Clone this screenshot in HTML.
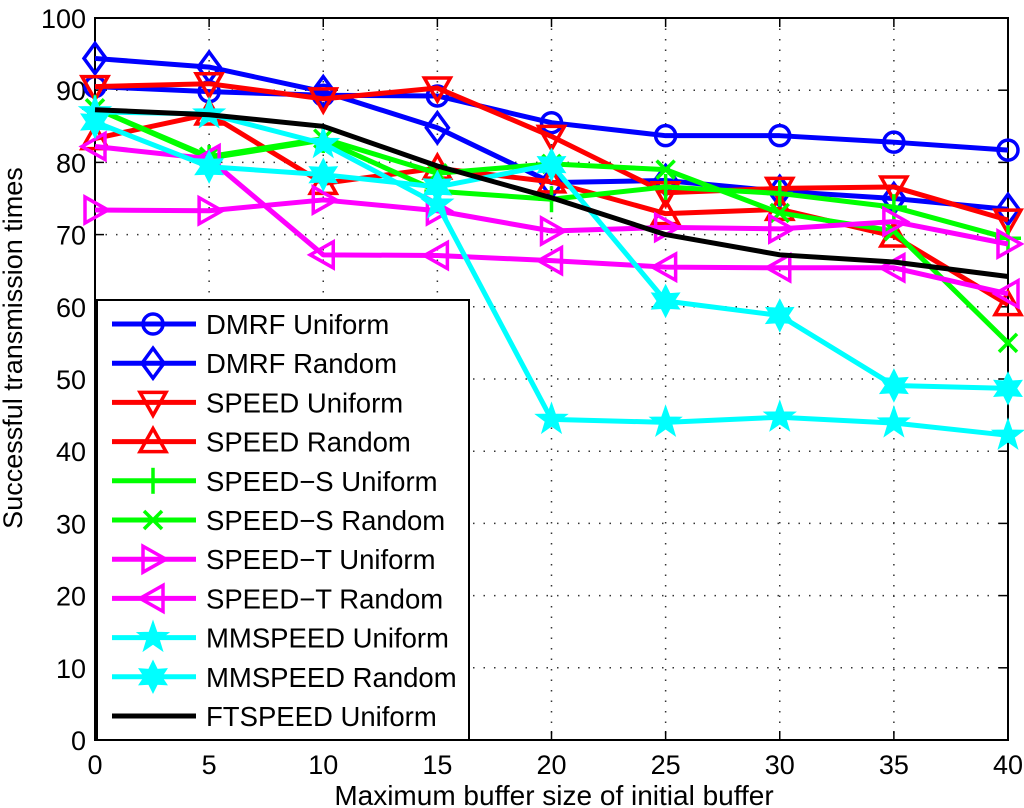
<!DOCTYPE html>
<html><head><meta charset="utf-8"><style>
html,body{margin:0;padding:0;background:#fff;}
svg{display:block;font-family:"Liberation Sans",Arial,sans-serif;}
</style></head><body>
<svg id="chart" width="1024" height="808" viewBox="0 0 1024 808" xmlns="http://www.w3.org/2000/svg"></svg>
<script>
const xCats = [0,5,10,15,20,25,30,35,40];
const yTicks = [0,10,20,30,40,50,60,70,80,90,100];
const dmrfUniform   = [90.5,89.8,89.3,89.2,85.5,83.7,83.7,82.8,81.7];
const dmrfRandom    = [94.4,93.2,89.8,84.8,77.2,77.5,76.0,75.0,73.5];
const speedUniform  = [90.5,90.9,88.8,90.3,83.6,75.8,76.4,76.6,72.0];
const speedRandom   = [83.3,86.7,77.1,79.2,77.3,72.9,73.5,69.8,60.3];
const speedSUniform = [87.5,80.6,83.1,76.0,74.9,76.6,75.7,73.8,69.5];
const speedSRandom  = [87.5,80.8,83.3,78.5,79.8,79.0,73.0,70.5,55.0];
const speedTUniform = [73.4,73.3,74.8,73.3,70.5,71.0,70.8,71.8,68.7];
const speedTRandom  = [82.2,80.5,67.2,67.1,66.4,65.5,65.4,65.4,61.8];
const mmUniform     = [87.0,86.7,82.6,74.2,44.4,44.0,44.7,43.9,42.2];
const mmRandom      = [85.6,79.4,78.3,76.6,79.7,60.8,58.8,49.1,48.7];
const ftUniform     = [87.3,86.6,85.0,79.5,75.1,70.0,67.2,66.2,64.2];

const L=95,R=1008,T=18,B=740;
const xs=v=>L+(v-0)/(40-0)*(R-L);
const ys=v=>B-(v-0)/(100-0)*(B-T);
const svg=document.getElementById('chart');
const NS='http://www.w3.org/2000/svg';
function mk(tag,attrs,parent){const e=document.createElementNS(NS,tag);for(const k in attrs)e.setAttribute(k,attrs[k]);(parent||svg).appendChild(e);return e;}

const grid=mk('g',{});


xCats.forEach(v=>{if(v>0&&v<40)mk('line',{x1:xs(v),x2:xs(v),y1:T,y2:B,stroke:'#333','stroke-width':1.5,'stroke-dasharray':'1.5 9'},grid);});
yTicks.forEach(v=>{if(v>0&&v<100)mk('line',{x1:L,x2:R,y1:ys(v),y2:ys(v),stroke:'#333','stroke-width':1.5,'stroke-dasharray':'1.5 9'},grid);});

const axes=mk('g',{});


xCats.forEach(v=>{
  mk('line',{x1:xs(v),x2:xs(v),y1:B,y2:B-9,stroke:'#000','stroke-width':1.5},axes);
  mk('line',{x1:xs(v),x2:xs(v),y1:T,y2:T+9,stroke:'#000','stroke-width':1.5},axes);
  const t=mk('text',{x:xs(v),y:B+34,'font-size':27,'text-anchor':'middle'},axes);
  
  
  t.textContent=v;
});
yTicks.forEach(v=>{
  mk('line',{x1:L,x2:L+9,y1:ys(v),y2:ys(v),stroke:'#000','stroke-width':1.5},axes);
  mk('line',{x1:R,x2:R-9,y1:ys(v),y2:ys(v),stroke:'#000','stroke-width':1.5},axes);
  const t=mk('text',{x:L-9,y:ys(v)+10,'font-size':27,'text-anchor':'end'},axes);
  
  
  t.textContent=v;
});
mk('rect',{x:L,y:T,width:R-L,height:B-T,fill:'none',stroke:'#000','stroke-width':2},axes);
const xt=mk('text',{x:554,y:805,'font-size':28,'text-anchor':'middle'});


xt.textContent='Maximum buffer size of initial buffer';
const yt=mk('text',{x:0,y:0,'font-size':27,'text-anchor':'middle',transform:'translate(22,348) rotate(-90)'});


yt.textContent='Successful transmission times';

function marker(type,cx,cy,color,g){
  const sw=3.5;
  const st={fill:'none',stroke:color,'stroke-width':sw};
  if(type==='o') mk('circle',Object.assign({cx,cy,r:10},st),g);
  else if(type==='d') mk('polygon',Object.assign({points:`${cx},${cy-15} ${cx+11},${cy} ${cx},${cy+15} ${cx-11},${cy}`},st),g);
  else if(type==='v') mk('polygon',Object.assign({points:`${cx-13},${cy-10} ${cx+13},${cy-10} ${cx},${cy+13}`},st),g);
  else if(type==='^') mk('polygon',Object.assign({points:`${cx-13},${cy+10} ${cx+13},${cy+10} ${cx},${cy-13}`},st),g);
  else if(type==='>') mk('polygon',Object.assign({points:`${cx-10},${cy-13} ${cx-10},${cy+13} ${cx+13},${cy}`},st),g);
  else if(type==='<') mk('polygon',Object.assign({points:`${cx+10},${cy-13} ${cx+10},${cy+13} ${cx-13},${cy}`},st),g);
  else if(type==='+') {mk('line',{x1:cx,x2:cx,y1:cy-13,y2:cy+13,stroke:color,'stroke-width':sw},g);mk('line',{x1:cx-13,x2:cx+13,y1:cy,y2:cy,stroke:color,'stroke-width':sw},g);}
  else if(type==='x') {mk('line',{x1:cx-9,x2:cx+9,y1:cy-9,y2:cy+9,stroke:color,'stroke-width':sw},g);mk('line',{x1:cx-9,x2:cx+9,y1:cy+9,y2:cy-9,stroke:color,'stroke-width':sw},g);}
  else if(type==='p'){let p=[];for(let i=0;i<10;i++){const r=i%2?6:15,a=-Math.PI/2+i*Math.PI/5;p.push((cx+r*Math.cos(a)).toFixed(1)+','+(cy+r*Math.sin(a)).toFixed(1));}mk('polygon',{points:p.join(' '),fill:color,stroke:color,'stroke-width':2},g);}
  else if(type==='h'){let p=[];for(let i=0;i<12;i++){const r=i%2?8:15,a=-Math.PI/2+i*Math.PI/6;p.push((cx+r*Math.cos(a)).toFixed(1)+','+(cy+r*Math.sin(a)).toFixed(1));}mk('polygon',{points:p.join(' '),fill:color,stroke:color,'stroke-width':2},g);}
}
const series=[
 ['DMRF Uniform',dmrfUniform,'#0000ff','o','dmrf-uniform'],
 ['DMRF Random',dmrfRandom,'#0000ff','d','dmrf-random'],
 ['SPEED Uniform',speedUniform,'#ff0000','v','speed-uniform'],
 ['SPEED Random',speedRandom,'#ff0000','^','speed-random'],
 ['SPEED\u2212S Uniform',speedSUniform,'#00ff00','+','speed-s-uniform'],
 ['SPEED\u2212S Random',speedSRandom,'#00ff00','x','speed-s-random'],
 ['SPEED\u2212T Uniform',speedTUniform,'#ff00ff','>','speed-t-uniform'],
 ['SPEED\u2212T Random',speedTRandom,'#ff00ff','<','speed-t-random'],
 ['MMSPEED Uniform',mmUniform,'#00ffff','p','mmspeed-uniform'],
 ['MMSPEED Random',mmRandom,'#00ffff','h','mmspeed-random'],
 ['FTSPEED Uniform',ftUniform,'#000000',null,'ftspeed-uniform']
];
series.forEach(s=>{
  const g=mk('g',{});
  
  
  mk('polyline',{points:s[1].map((v,i)=>xs(xCats[i])+','+ys(v)).join(' '),fill:'none',stroke:s[2],'stroke-width':5,'stroke-linejoin':'round'},g);
  if(s[3]) s[1].forEach((v,i)=>marker(s[3],xs(xCats[i]),ys(v),s[2],g));
});

const lg=mk('g',{});


mk('rect',{x:97,y:300,width:372,height:440,fill:'#fff',stroke:'#000','stroke-width':2},lg);
series.forEach((s,i)=>{
  const y=324+i*39.2;
  const e=mk('g',{},lg);
  
  
  mk('line',{x1:112,x2:196,y1:y,y2:y,stroke:s[2],'stroke-width':5},e);
  if(s[3]) marker(s[3],153,y,s[2],e);
  const t=mk('text',{x:206,y:y+10,'font-size':27.5},e);
  t.textContent=s[0];
});
</script>
</body></html>
